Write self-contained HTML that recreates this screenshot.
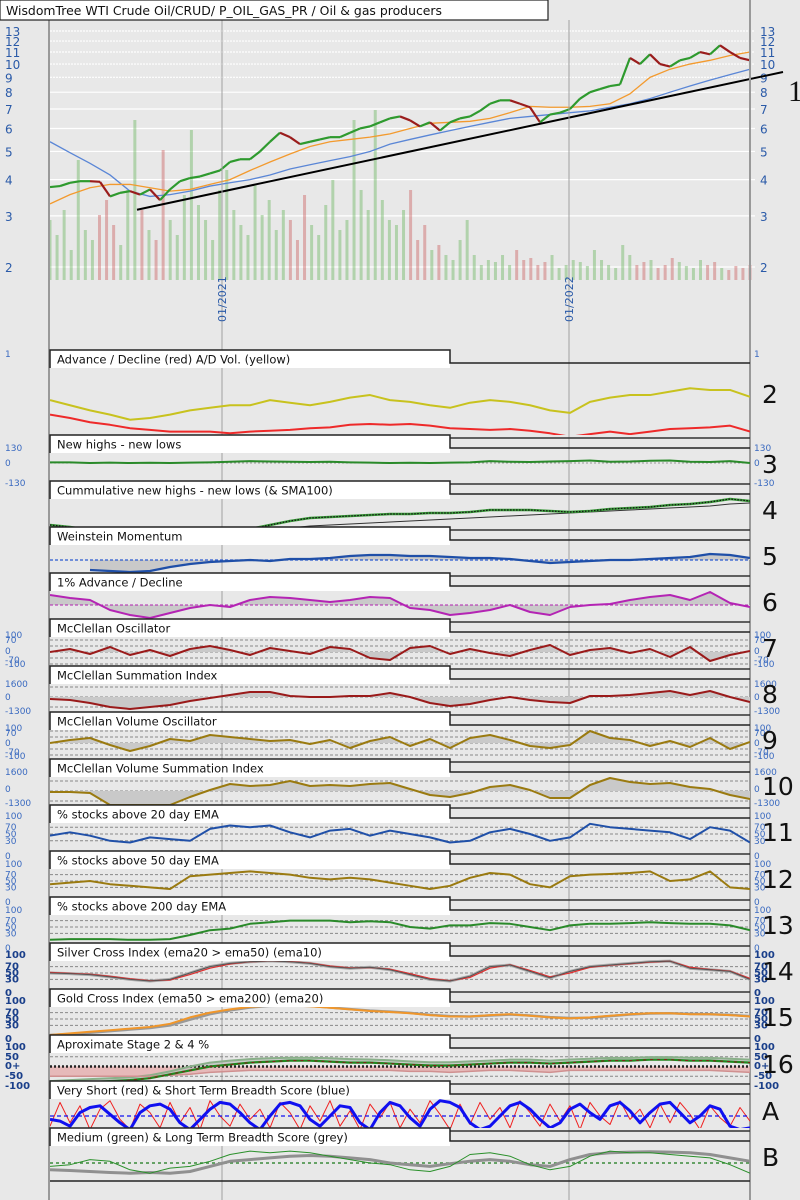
<!DOCTYPE html>
<html><head><meta charset="utf-8"><title>WisdomTree WTI Crude Oil breadth chart</title>
<style>
html,body{margin:0;padding:0;background:#e8e8e8;}
svg{display:block;font-family:"DejaVu Sans","Liberation Sans",sans-serif;}
</style></head>
<body>
<svg id="chart" xmlns="http://www.w3.org/2000/svg" width="800" height="1200" viewBox="0 0 800 1200">
<rect x="0" y="0" width="800" height="1200" fill="#e8e8e8"/>
</svg>
<script>
// ---------- data ----------
const priceTicks = [2,3,4,5,6,7,8,9,10,11,12,13];
const priceClose = [3.77,3.8,3.9,3.95,3.95,3.93,3.5,3.6,3.65,3.55,3.7,3.4,3.7,3.95,4.05,4.1,4.2,4.3,4.6,4.7,4.7,5.0,5.4,5.8,5.6,5.3,5.4,5.5,5.6,5.6,5.8,6.0,6.1,6.3,6.5,6.6,6.4,6.1,6.3,5.9,6.3,6.5,6.6,6.9,7.3,7.5,7.5,7.3,7.1,6.3,6.7,6.8,7.0,7.6,8.0,8.2,8.4,8.5,10.5,10.0,10.8,10.0,9.8,10.3,10.5,11.0,10.8,11.6,11.0,10.5,10.3];
const emaOrange = [3.3,3.55,3.75,3.85,3.85,3.75,3.65,3.7,3.85,4.0,4.3,4.6,4.9,5.2,5.4,5.5,5.6,5.75,6.0,6.25,6.3,6.35,6.5,6.8,7.15,7.1,7.1,7.15,7.3,7.9,9.0,9.6,10.0,10.3,10.7,11.0];
const smaBlue = [5.4,4.95,4.55,4.15,3.65,3.5,3.55,3.65,3.8,3.9,4.0,4.15,4.35,4.5,4.65,4.8,5.0,5.3,5.5,5.7,5.9,6.1,6.3,6.5,6.6,6.7,6.8,6.9,7.1,7.3,7.6,8.0,8.4,8.8,9.2,9.6];
const trendStart = 3.15, trendEnd = 9.39;
const volume = [60,45,70,30,120,50,40,65,80,55,35,90,160,70,50,40,130,60,45,85,150,75,60,40,90,110,70,55,45,95,65,80,50,70,60,40,85,55,45,75,100,50,60,160,90,70,170,80,60,55,70,90,40,55,30,35,25,20,40,60,25,15,20,18,25,15,30,20,22,15,18,25,12,15,20,18,14,30,20,15,12,35,25,15,18,20,12,15,22,18,14,12,20,15,18,12,10,14,12,15];
const dateLabels = ["01/2021","01/2022"];

const adYellow = [41,35,29,24,18,20,24,29,32,35,35,41,38,35,39,44,47,41,39,35,32,38,41,39,35,29,26,39,44,47,47,51,55,53,53,45];
const adRed = [24,20,15,12,8,6,4,4,4,2,4,5,6,8,9,12,13,12,13,11,8,7,6,7,5,2,-2,1,4,1,4,7,8,9,11,4];
const newHighsLows = [5,5,0,3,0,2,0,3,5,10,15,12,10,8,10,5,3,0,2,0,3,5,15,10,8,12,15,20,10,12,18,20,10,8,15,0];
const cumNHNL = [2,0,-3,-5,-6,-7,-7,-6,-5,-4,-2,2,6,9,10,11,12,13,13,14,14,15,17,17,17,16,15,16,18,19,20,22,23,25,28,26];
const cumSMA = [-12,-12,-11,-11,-10,-10,-9,-9,-8,-7,-5,-3,-1,1,2,3,4,5,6,7,8,9,10,11,12,13,14,15,16,17,18,19,20,21,23,24];
const weinstein = [null,null,-10,-11,-12,-11,-7,-4,-2,-1,0,-1,1,1,2,4,5,5,4,4,3,2,2,1,-1,-3,-2,-1,0,0,1,2,3,6,5,2];
const oneAD = [10,7,5,-5,-10,-13,-8,-3,0,-2,5,8,7,5,3,5,8,7,-3,-5,-10,-8,-5,0,-7,-10,-2,0,1,5,8,10,5,13,2,-2];
const mcOsc = [0,3,-2,5,-3,2,-4,3,6,2,-3,4,1,-2,5,3,-6,-8,4,6,-2,3,-1,-4,2,7,-3,2,4,-1,3,-5,5,-9,-3,1];
const mcSum = [-2,-3,-6,-10,-12,-10,-8,-4,-1,2,5,5,1,0,0,1,1,4,0,-6,-9,-7,-3,0,-3,-5,-6,1,1,2,4,6,2,6,0,-5];
const mcVolOsc = [0,3,5,-2,-8,-3,4,2,8,6,4,2,3,-1,3,-5,2,6,-3,4,-5,5,8,3,-3,-5,-2,12,5,3,-3,2,-4,5,-6,1];
const mcVolSum = [-1,-1,-2,-14,-14,-14,-14,-6,1,7,5,6,10,5,6,5,7,8,2,-4,-6,-2,4,6,1,-7,-7,6,13,9,7,8,4,2,-4,-8];
const above20 = [45,55,45,30,25,40,35,30,65,75,70,75,55,40,60,65,45,60,50,40,25,30,55,65,50,30,40,80,70,65,60,55,35,70,60,25];
const above50 = [40,45,50,40,35,30,25,65,70,75,80,75,70,60,55,60,55,45,35,25,35,60,75,70,40,30,65,70,72,75,80,50,55,80,30,25];
const above200 = [10,12,12,12,10,10,12,25,40,45,60,65,70,70,70,65,68,65,50,45,55,55,62,60,50,40,55,60,60,62,65,62,60,60,55,40];
const silverGrey = [50,48,45,38,30,25,30,50,70,80,85,88,85,80,70,65,68,60,45,30,25,40,70,75,55,35,55,70,75,80,85,87,65,60,55,30];
const silverRed = [52,49,46,40,32,26,28,45,65,78,85,88,86,81,72,66,67,62,48,33,26,36,65,76,58,38,50,68,74,79,84,87,68,61,56,33];
const goldOrange = [0,5,10,15,20,25,35,55,70,80,88,92,92,90,85,80,75,72,68,62,58,58,62,65,60,55,52,55,60,65,68,68,65,65,62,58];
const goldGrey = [0,3,7,12,17,22,30,48,65,77,86,91,92,91,86,81,76,73,69,63,59,58,61,64,61,56,53,54,59,64,67,68,66,65,63,59];
const stage2 = [-90,-85,-80,-75,-70,-60,-40,-20,0,10,20,25,30,30,25,20,20,15,10,5,5,10,15,20,20,15,20,25,30,30,35,35,30,30,25,20];
const stage4 = [-50,-50,-50,-50,-50,-50,-45,-40,-30,-25,-20,-20,-20,-20,-20,-20,-20,-20,-25,-25,-30,-25,-20,-20,-25,-30,-20,-20,-20,-20,-20,-20,-20,-20,-25,-30];
const stageUpper = [-75,-70,-65,-60,-55,-45,-25,0,20,30,38,42,45,45,42,38,36,32,26,22,22,26,30,35,35,30,36,40,44,44,48,48,45,44,40,35];
const veryShort = [20,90,30,80,10,70,95,40,10,85,60,15,90,30,75,10,95,50,20,85,40,70,15,90,60,10,80,35,95,20,65,10,85,45,90,15,70,30,95,55,10,85,25,90,40,75,15,95,60,20,85,35,80,10,90,50,25,95,40,70,15,85,30,90,55,10,80,45,20,75,35];
const shortTerm = [40,35,20,60,75,80,55,30,10,60,80,85,70,30,10,40,70,90,85,60,30,10,50,85,90,80,40,20,50,80,75,30,10,60,90,80,45,20,70,95,90,75,30,10,20,50,80,90,70,40,15,30,70,85,60,40,80,90,65,30,60,85,90,60,30,50,80,70,20,10,15];
const mediumTerm = [40,45,60,55,30,20,35,40,55,75,85,80,85,80,70,60,50,45,30,25,40,75,80,70,45,30,40,70,85,80,80,75,70,65,45,20];
const longTerm = [30,28,25,22,20,22,20,25,40,55,60,65,70,72,70,65,60,50,45,40,48,55,60,55,45,40,60,75,80,82,83,82,80,75,65,55];

// ---------- helpers ----------
const svg = document.getElementById('chart');
const NS = 'http://www.w3.org/2000/svg';
function mk(tag, attrs, parent){ const e=document.createElementNS(NS,tag); for(const k in attrs) e.setAttribute(k,attrs[k]); (parent||svg).appendChild(e); return e; }
const X0=50, X1=750;
function xAt(i,n){ return X0 + i*(X1-X0)/(n-1); }
function yPrice(v){ return 267 - 126.1*(Math.log(v)-Math.log(2)); }

// ---------- main price chart ----------
const gMain = mk('g',{});


priceTicks.forEach(t=>{
  const y=yPrice(t);
  const gl=mk('line',{x1:50,x2:755,y1:y,y2:y,stroke:'#ffffff','stroke-width':1.2,'stroke-dasharray':t>=9?'2,1':'none'},gMain);
  
  
  const l=mk('text',{x:5,y:y+5,fill:'#2a5aa8','font-size':12},gMain); l.textContent=t;
  
  
  const r=mk('text',{x:760,y:y+5,fill:'#2a5aa8','font-size':12},gMain); r.textContent=t;
  
  
});
// volume bars
volume.forEach((v,i)=>{
  const x=xAt(i,volume.length);
  const pi=Math.round((x-X0)/10);
  const up = pi===0 ? true : priceClose[pi]>=priceClose[pi-1];
  const b=mk('rect',{x:x-1.5,y:280-v,width:3,height:v,fill:up?'rgba(110,185,100,0.45)':'rgba(205,100,100,0.45)'},gMain);
  
  
});
function polyPts(arr,yf){ const n=arr.length; return arr.map((v,i)=>v==null?null:[xAt(i,n),yf(v)]).filter(p=>p); }
const pBlue=mk('polyline',{points:polyPts(smaBlue,yPrice).join(' '),fill:'none',stroke:'#5a86d6','stroke-width':1.3},gMain);


const pOr=mk('polyline',{points:polyPts(emaOrange,yPrice).join(' '),fill:'none',stroke:'#f39a2e','stroke-width':1.3},gMain);


for(let i=1;i<priceClose.length;i++){
  const n=priceClose.length;
  const up=priceClose[i]>=priceClose[i-1];
  const s=mk('line',{x1:xAt(i-1,n),y1:yPrice(priceClose[i-1]),x2:xAt(i,n),y2:yPrice(priceClose[i]),stroke:up?'#2e9a2e':'#9a1c1c','stroke-width':2.2},gMain);
  
  
}
const tl=mk('line',{x1:137,y1:yPrice(trendStart),x2:783,y2:yPrice(trendEnd),stroke:'#000','stroke-width':2},gMain);



// vertical date grid
[222,569].forEach((x,k)=>{
  const v=mk('line',{x1:x,x2:x,y1:20,y2:1200,stroke:'#a0a0a0','stroke-width':1});
  
  
  const t=mk('text',{x:0,y:0,fill:'#2a5aa8','font-size':11,transform:`translate(${x+4},322) rotate(-90)`}); t.textContent=dateLabels[k];
  
  
});
// axes
const la=mk('line',{x1:49,x2:49,y1:0,y2:1200,stroke:'#999','stroke-width':2});


const ra=mk('line',{x1:750,x2:750,y1:0,y2:1200,stroke:'#999','stroke-width':2});



// ---------- panels ----------
const T=[350,435,481,527,573,619,666,712,759,805,851,897,943,989,1035,1081,1128,1181];
const titles=["Advance / Decline (red) A/D Vol. (yellow)","New highs - new lows","Cummulative new highs - new lows (& SMA100)","Weinstein Momentum","1% Advance / Decline","McClellan Oscillator","McClellan Summation Index","McClellan Volume Oscillator","McClellan Volume Summation Index","% stocks above 20 day EMA","% stocks above 50 day EMA","% stocks above 200 day EMA","Silver Cross Index (ema20 > ema50) (ema10)","Gold Cross Index (ema50 > ema200) (ema20)","Aproximate Stage 2 & 4 %","Very Short (red) & Short Term Breadth Score (blue)","Medium (green) & Long Term Breadth Score (grey)"];
const numbers=["2","3","4","5","6","7","8","9","10","11","12","13","14","15","16","A","B"];
const numY=[403,473,519,565,611,657,703,749,795,841,888,934,980,1026,1073,1120,1166];

function scaleFn(v0,v1,y0,y1){ return v=>y0+(v-v0)*(y1-y0)/(v1-v0); }
let clipCount=0;
function clipFor(k){
  const id='clip'+(clipCount++);
  const cp=mk('clipPath',{id:id});
  mk('rect',{x:50,y:T[k]+1,width:700,height:T[k+1]-T[k]-1},cp);
  return 'url(#'+id+')';
}
function line(arr,yf,color,w,k,name,dash){
  const p=mk('polyline',{points:polyPts(arr,yf).join(' '),fill:'none',stroke:color,'stroke-width':w,'stroke-linejoin':'round','clip-path':clipFor(k)});
  if(dash) p.setAttribute('stroke-dasharray',dash);
  
  
  return p;
}
function hline(y,color,dash,w,k){
  const l=mk('line',{x1:50,x2:750,y1:y,y2:y,stroke:color,'stroke-width':w||1,'stroke-dasharray':dash||'3,2'});
  
  
}
function fillBase(arr,yf,base,k,name,color){
  const pts=polyPts(arr,yf); if(!pts.length) return;
  const poly=[[pts[0][0],base]].concat(pts).concat([[pts[pts.length-1][0],base]]);
  const f=mk('polygon',{points:poly.join(' '),fill:color||'#c9c9c9','clip-path':clipFor(k)});
  
  
}
function fillBetween(a,b,yf,k,name,color){
  const pa=polyPts(a,yf), pb=polyPts(b,yf).reverse();
  const f=mk('polygon',{points:pa.concat(pb).join(' '),fill:color});
  
  
}
function axisLabel(txt,y,side,bold){
  const t=mk('text',{x:side==='l'?5:754,y:y,fill:bold?'#1a3f8a':'#3a6ac0','font-size':bold?10:9,'font-weight':bold?'bold':'normal'}); t.textContent=txt;
  
  
}
function labels(list,bold){ list.forEach(([t,y])=>{axisLabel(t,y,'l',bold);axisLabel(t,y,'r',bold);}); }

// P2
let f=scaleFn(0,100,435,350);
line(adYellow,f,'#c8c21e',2,0,'ad-volume-line');
line(adRed,f,'#ee2a2a',2,0,'advance-decline-line');
labels([["1",357]]);
// P3
f=scaleFn(-130,130,479,447);
hline(f(0),'#999','2,2',1,1);
line(newHighsLows,f,'#2a8a2a',2,1,'new-highs-lows-line');
labels([["130",451],["0",466],["-130",486]]);
// P4
f=scaleFn(0,46,527,481);
line(cumSMA,f,'#333',1,2,'cumulative-sma-line');
line(cumNHNL,f,'#3a9a3a',2.5,2,'cumulative-nhnl-line');
line(cumNHNL,f,'#111',1.2,2,'cumulative-nhnl-dots','1.5,1.5');
// P5
f=scaleFn(-10,20,570,540);
fillBase(weinstein,f,f(0),3,'weinstein-fill');
hline(f(0),'#2a5ad0','3,2',1.2,3);
line(weinstein,f,'#1f4fa8',2.2,3,'weinstein-line');
// P6
f=scaleFn(-10,10,615,595);
fillBase(oneAD,f,f(0),4,'one-pct-ad-fill');
hline(f(0),'#b020b0','3,2',1,4);
line(oneAD,f,'#b424b4',2,4,'one-pct-ad-line');
// P7
f=scaleFn(-10,10,662,642);
[-12,-6,0,6,12].forEach(v=>hline(f(v),'#888','3,2',1,5));
fillBase(mcOsc,f,f(0),5,'mcclellan-osc-fill');
line(mcOsc,f,'#9a1a1a',2,5,'mcclellan-osc-line');
labels([["100",638],["70",643],["0",654],["-70",663],["-100",667]]);
// P8
f=scaleFn(-10,10,707,687);
[-10,0,10].forEach(v=>hline(f(v),'#888','3,2',1,6));
fillBase(mcSum,f,f(0),6,'mcclellan-sum-fill');
line(mcSum,f,'#9a1a1a',2,6,'mcclellan-sum-line');
labels([["1600",687],["0",700],["-1300",714]]);
// P9
f=scaleFn(-10,10,753,733);
[-12,-6,0,6,12].forEach(v=>hline(f(v),'#888','3,2',1,7));
fillBase(mcVolOsc,f,f(0),7,'mcclellan-vol-osc-fill');
line(mcVolOsc,f,'#9a7a10',2,7,'mcclellan-vol-osc-line');
labels([["100",731],["70",736],["0",746],["-70",755],["-100",759]]);
// P10
f=scaleFn(-10,10,801,781);
[-10,0,10].forEach(v=>hline(f(v),'#888','3,2',1,8));
fillBase(mcVolSum,f,f(0),8,'mcclellan-vol-sum-fill');
line(mcVolSum,f,'#9a7a10',2,8,'mcclellan-vol-sum-line');
labels([["1600",775],["0",792],["-1300",806]]);
// P11-13
[[above20,9,'#2050a8','above-20-ema-line',[817,851]],[above50,10,'#9a7a10','above-50-ema-line',[865,897]],[above200,11,'#2a8a2a','above-200-ema-line',[911,943]]].forEach(([arr,k,c,n,[yt,yb]])=>{
  const g=scaleFn(0,100,yb,yt);
  [70,50,30].forEach(v=>hline(g(v),'#888','3,2',1,k));
  line(arr,g,c,2,k,n);
  labels([["100",yt+2],["70",g(70)+3],["50",g(50)+3],["30",g(30)+3],["0",yb+8]]);
});
// P14
f=scaleFn(0,100,989,957);
[70,50,30].forEach(v=>hline(f(v),'#888','3,2',1,12));
line(silverGrey,f,'#aaa',3,12,'silver-cross-ema-line');
line(silverRed,f,'#e03030',1.2,12,'silver-cross-red-line');
line(silverGrey,f,'#555',1,12,'silver-cross-line');
labels([["100",958],["70",f(70)+3],["50",f(50)+3],["30",f(30)+3],["0",996]],true);
// P15
f=scaleFn(0,100,1035,1003);
[70,50,30].forEach(v=>hline(f(v),'#888','3,2',1,13));
line(goldGrey,f,'#999',2.5,13,'gold-cross-ema-line');
line(goldOrange,f,'#f0962a',2,13,'gold-cross-line');
labels([["100",1004],["70",f(70)+3],["50",f(50)+3],["30",f(30)+3],["0",1042]],true);
// P16
f=scaleFn(-100,100,1086,1047);
fillBetween(stage4,stage4.map(()=>0),f,14,'stage4-fill','rgba(230,170,170,0.75)');
fillBetween(stageUpper,stage2,f,14,'stage2-band','rgba(190,190,190,0.7)');
[50,-50].forEach(v=>hline(f(v),'#888','3,2',1,14));
hline(f(0),'#222','2,2',2.5,14);
line(stageUpper,f,'#8ab08a',2,14,'stage2-upper-line');
line(stage4,f,'#d09090',1.5,14,'stage4-line');
line(stage2,f,'#1e8a1e',2.2,14,'stage2-line');
line(stage2,f,'#8a1a1a',1,14,'stage2-red-line','3,4');
labels([["100",1050],["50",1060],["0+",1069],["-50",1079],["-100",1089]],true);
// A
f=scaleFn(0,100,1133,1099);
line(veryShort,f,'#f02020',1,15,'very-short-score-line');
line(shortTerm,f,'#1010f0',3,15,'short-term-score-line');
hline(f(50),'#1010f0','4,3',1.2,15);
// B
f=scaleFn(0,100,1180,1146);
hline(f(50),'#3a8a3a','3,3',1.5,16);
line(longTerm,f,'#909090',3,16,'long-term-score-line');
line(mediumTerm,f,'#2a902a',1,16,'medium-term-score-line');

// panel frames and titles
titles.forEach((t,k)=>{
  const y=T[k];
  if(k>0){ const pl=mk('line',{x1:450,x2:750,y1:y+3,y2:y+3,stroke:'#333','stroke-width':1.5});
    
     }
  const box=mk('rect',{x:50,y:y,width:400,height:18,fill:'#ffffff'});
  
  
  const fr=mk('polyline',{points:`50,${y+18} 50,${y} 450,${y} 450,${y+13} 750,${y+13}`,fill:'none',stroke:'#222','stroke-width':1.5});
  
  
  const tx=mk('text',{x:57,y:y+13.5,fill:'#111','font-size':11.5}); tx.textContent=t;
  
  
  const nm=mk('text',{x:762,y:numY[k],fill:'#111','font-size':25}); nm.textContent=numbers[k];
  
  
});
const endLine=mk('line',{x1:50,x2:750,y1:1181,y2:1181,stroke:'#222','stroke-width':1.5});



// main title
const tb=mk('rect',{x:0,y:0,width:548,height:20,fill:'#fff',stroke:'#222','stroke-width':1.2});


const tt=mk('text',{x:6,y:15,fill:'#111','font-size':12.5,textLength:436,lengthAdjust:'spacingAndGlyphs'}); tt.textContent='WisdomTree WTI Crude Oil/CRUD/ P_OIL_GAS_PR / Oil & gas producers';


const one=mk('text',{x:788,y:101,fill:'#111','font-size':30,'font-family':'Liberation Serif, serif'}); one.textContent='1';


</script>
</body></html>
